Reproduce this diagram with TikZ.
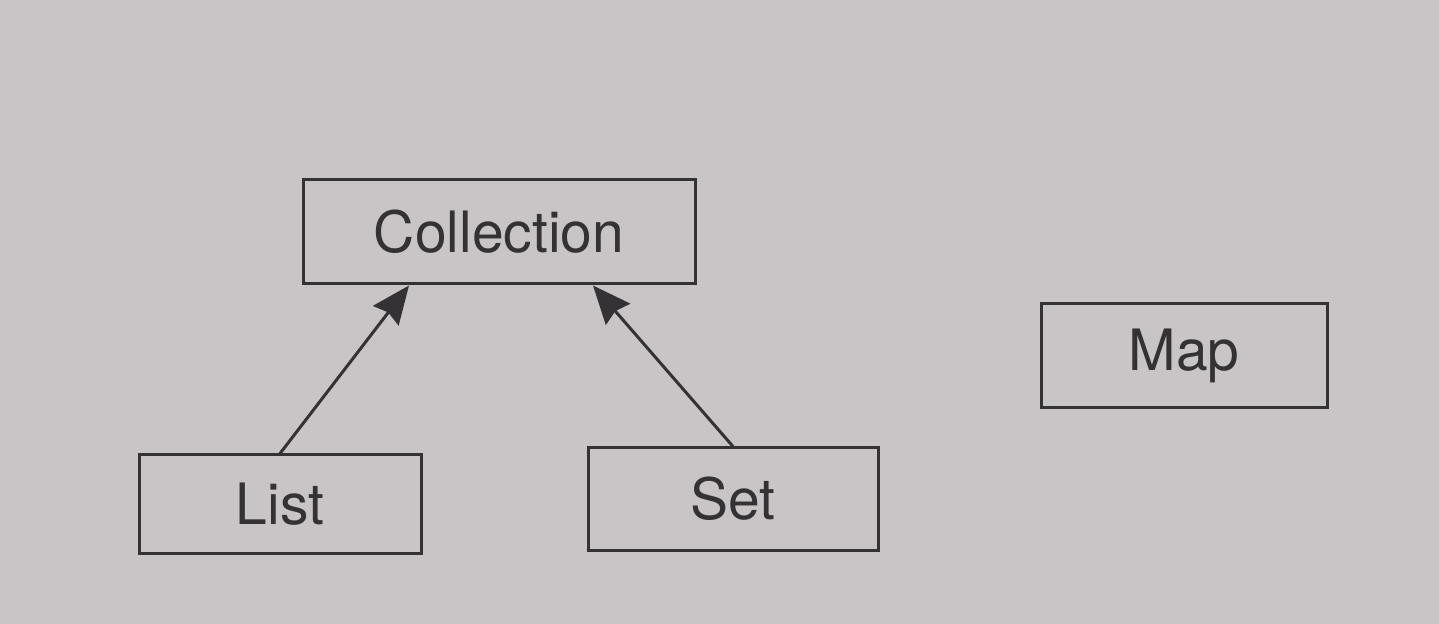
\documentclass[tikz,border=0pt]{standalone}
\usepackage{fontspec}
\setmainfont{TeX Gyre Heros}
\usepackage{xcolor}
\usetikzlibrary{arrows.meta}
\usetikzlibrary{positioning}
\definecolor{pagegrey}{RGB}{201,197,199}
\definecolor{inkgrey}{RGB}{52,50,52}
\tikzset{%
  classbox/.style={rectangle,draw=inkgrey,line width=1.5pt,text=inkgrey,inner sep=0pt,font=\fontsize{28.5}{30}\selectfont}
}
\tikzset{%
  inherit/.style={draw=inkgrey,line width=1.5pt,-{Stealth[length=19pt,width=16pt,inset=2pt]}}
}

\begin{document}
\begin{tikzpicture}[x=0.5pt,y=-0.5pt]
        \fill[pagegrey] (0,0) rectangle (1439,624);
        \useasboundingbox (0,0) rectangle (1439,624);

        \node[classbox,minimum width=196pt,minimum height=52pt](coll) at (499,232){\raisebox{-1.5pt}{Collection}};
        \node[classbox,minimum width=141pt,minimum height=49pt](list) at (280,504){List};
        \node[classbox,minimum width=145pt,minimum height=51pt](set) at (733,499){Set};
        \node[classbox,minimum width=143pt,minimum height=52pt](map) at (1184,356){\raisebox{-3pt}{Map}};

        \coordinate (colll) at ([xshift=-45pt]coll.south);
        \coordinate (collr) at ([xshift=47pt]coll.south);
        \draw[inherit] (list.north) -- (colll);
        \draw[inherit] (set.north) -- (collr);
      \end{tikzpicture}
\end{document}
